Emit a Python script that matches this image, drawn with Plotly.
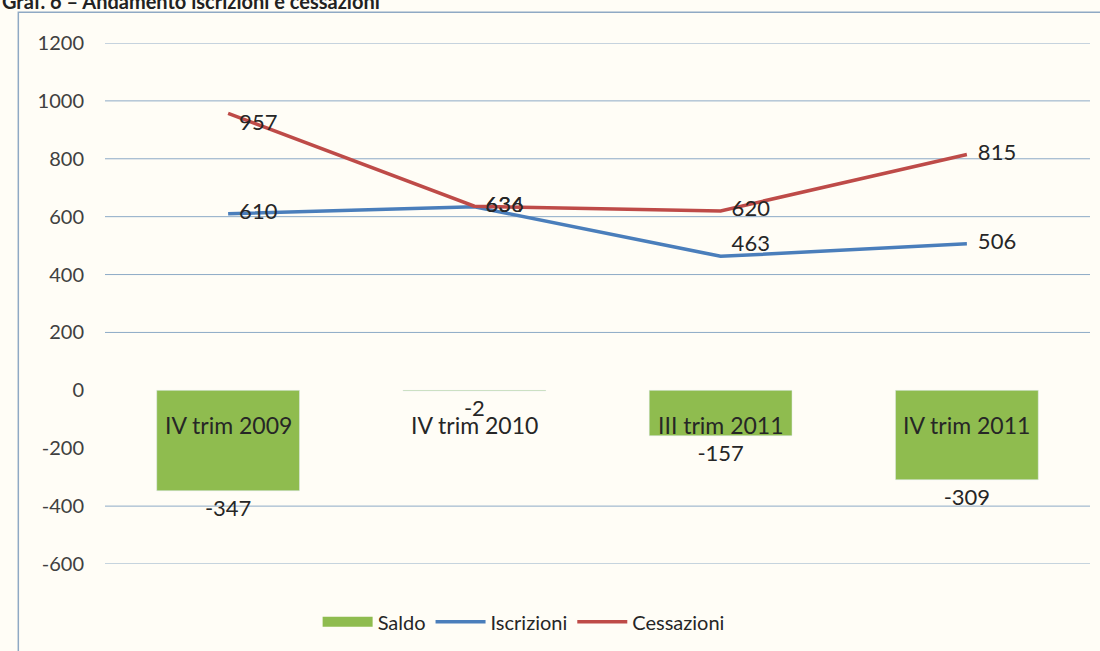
import plotly.graph_objects as go

categorie = ["IV trim 2009", "IV trim 2010", "III trim 2011", "IV trim 2011"]
saldo = [-347, -2, -157, -309]
iscrizioni = [610, 634, 463, 506]
cessazioni = [957, 636, 620, 815]
tick_vals = [1200, 1000, 800, 600, 400, 200, 0, -200, -400, -600]
grid_vals = [1200, 1000, 800, 600, 400, 200, -400, -600]

BG = "#FFFDF6"
TXT = "#262626"
GREEN = "#8FBC4F"
LBL = "\u2002%{y}"

fig = go.Figure()

fig.add_trace(go.Bar(x=categorie, y=saldo, name="Saldo", marker_color=GREEN,
                     width=0.58, text=saldo, textposition="outside", showlegend=False,
                     textfont=dict(size=22, color=TXT), cliponaxis=False))

# legend entry for Saldo drawn as a wide block, like the source legend
fig.add_trace(go.Scatter(x=[categorie[0]], y=[None], name="Saldo", mode="lines",
                         line=dict(color=GREEN, width=13), hoverinfo="skip"))

fig.add_trace(go.Scatter(x=categorie, y=iscrizioni, name="Iscrizioni", mode="lines+text",
                         line=dict(color="#4A7EBB", width=3.5),
                         texttemplate=LBL,
                         textposition=["middle right", "middle right", "top right", "middle right"],
                         textfont=dict(size=22, color=TXT), cliponaxis=False))

fig.add_trace(go.Scatter(x=categorie, y=cessazioni, name="Cessazioni", mode="lines+text",
                         line=dict(color="#BE4B48", width=3.5),
                         texttemplate=LBL,
                         textposition=["bottom right", "middle right", "middle right", "middle right"],
                         textfont=dict(size=22, color=TXT), cliponaxis=False))

# gridlines (the 0 and -200 lines are not visible in the original)
for g in grid_vals:
    fig.add_hline(y=g, line=dict(color="#8DAAC6", width=1), layer="below")

# category labels sit just under the zero line
for c in categorie:
    fig.add_annotation(x=c, y=0, text=c, showarrow=False, yanchor="top", yshift=-19,
                       font=dict(size=23, color=TXT))

# title, cut off at the top like the source image
fig.add_annotation(xref="paper", yref="paper", x=-0.107, y=1.08, xanchor="left", yanchor="middle",
                   text="<b>Graf. 6 – Andamento iscrizioni e cessazioni</b>", showarrow=False,
                   font=dict(size=20, color="#222222"))

# chart frame
fig.add_shape(type="rect", xref="paper", yref="paper", x0=-0.088, x1=1.02, y0=-0.2, y1=1.059,
              line=dict(color="#8FA9C4", width=1.5), fillcolor="rgba(0,0,0,0)", layer="below")

fig.update_layout(
    width=1100, height=651,
    margin=dict(l=105, r=10, t=43, b=87),
    paper_bgcolor=BG, plot_bgcolor=BG,
    font=dict(family="Lato, Open Sans, sans-serif", color=TXT),
    showlegend=True,
    legend=dict(orientation="h", x=0.425, xanchor="center", y=-0.111, yanchor="middle",
                font=dict(size=20, color=TXT), traceorder="normal", itemwidth=50,
                bgcolor="rgba(0,0,0,0)"),
)
fig.update_xaxes(showticklabels=False, showgrid=False, zeroline=False, showline=False)
fig.update_yaxes(range=[-600, 1200], tickvals=tick_vals, ticktext=[str(v) for v in tick_vals],
                 showgrid=False, zeroline=False, showline=False,
                 tickfont=dict(size=20, color="#404040"), ticklabelstandoff=20)

fig.write_html("out.html", config={"displayModeBar": False},
               post_script="document.body.style.margin='0';")
